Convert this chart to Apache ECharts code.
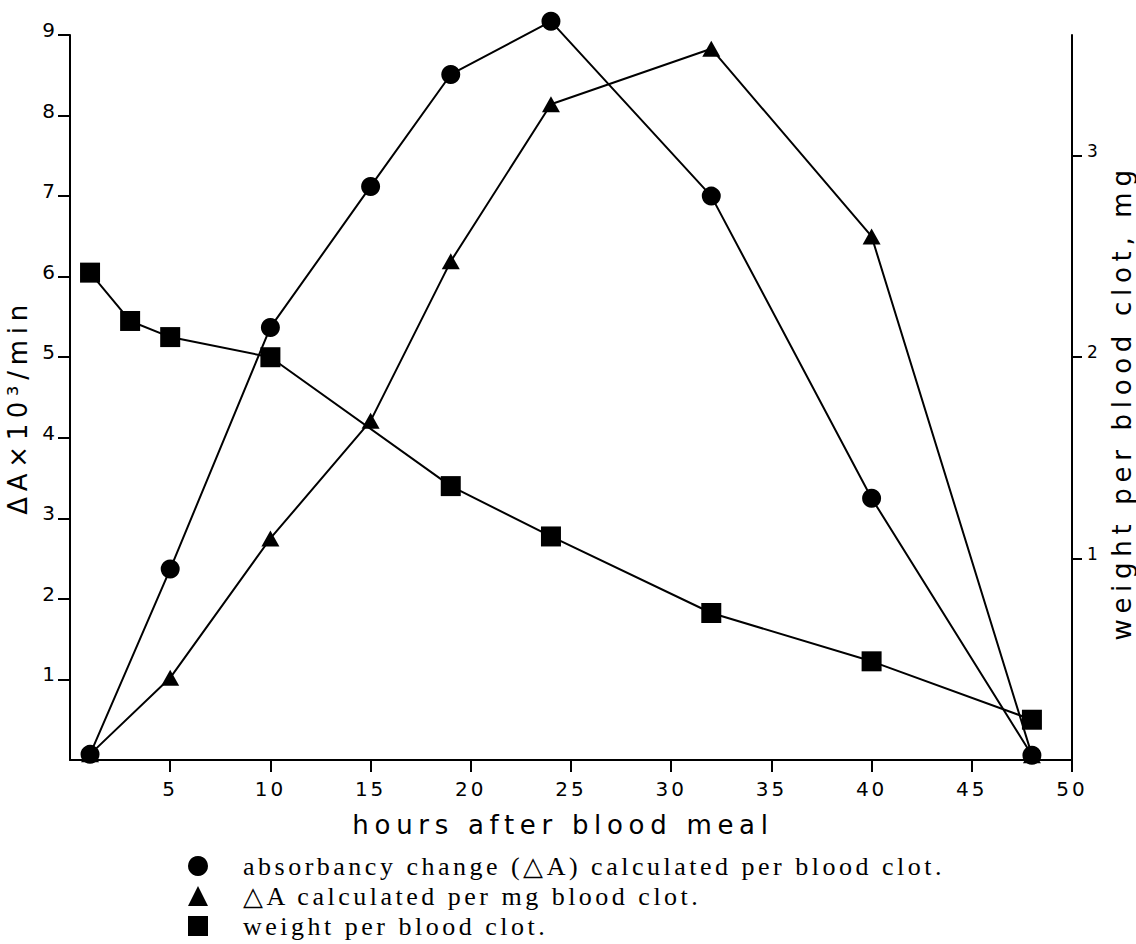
<!DOCTYPE html>
<html><head><meta charset="utf-8">
<script src="https://cdn.jsdelivr.net/npm/echarts@6/dist/echarts.min.js"></script>
<style>
html,body{margin:0;padding:0;background:#fff;}
#c{width:1136px;height:944px;}
#c svg text[style*="Liberation Serif"]{letter-spacing:3.5px;}
#c svg text[style*="26px"][style*="DejaVu"]{letter-spacing:5.7px;}
#c svg text[style*="sans-serif"]{letter-spacing:3px;}
</style></head><body><div id="c"></div>
<script>
// ---- data ----
const hoursAbs = [1, 5, 10, 15, 19, 24, 32, 40, 48];
const absPerClot = [0.07, 2.37, 5.37, 7.12, 8.51, 9.17, 7.0, 3.25, 0.06];
const absPerMg = [0.07, 1.02, 2.75, 4.21, 6.19, 8.14, 8.83, 6.5, 0.06];
const hoursWeight = [1, 3, 5, 10, 19, 24, 32, 40, 48];
const weightPerClot = [2.42, 2.18, 2.10, 2.0, 1.36, 1.11, 0.73, 0.49, 0.20];
const xTicks = [5, 10, 15, 20, 25, 30, 35, 40, 45, 50];
const yLeftTicks = [1, 2, 3, 4, 5, 6, 7, 8, 9];
const yRightTicks = [1, 2, 3];
const seriesNames = [
  'absorbancy change (\u25B3A) calculated per blood clot.',
  '\u25B3A calculated per mg blood clot.',
  'weight per blood clot.'
];
const xName = 'hours after blood meal';
const yLeftName = '\u0394A\u00D710\u00B3/min';
const yRightName = 'weight per blood clot, mg';

const pairs = (xs, ys) => xs.map((x, i) => [x, ys[i]]);
const black = '#000';
const lab = 'DejaVu Sans';

const chart = echarts.init(document.getElementById('c'), null, {renderer: 'svg'});
chart.setOption({
  animation: false,
  backgroundColor: '#fff',
  grid: {left: 70, right: 64, top: 35, bottom: 184, containLabel: false, outerBoundsMode: 'none'},
  legend: {
    orient: 'vertical', left: 188, top: 851, padding: 0,
    itemWidth: 20, itemHeight: 20, itemGap: 0, selectedMode: false,
    textStyle: {fontFamily: 'Liberation Serif', fontSize: 26, color: black, lineHeight: 30, padding: [0, 0, 0, 30]},
    data: [
      {name: seriesNames[0], icon: 'circle'},
      {name: seriesNames[1], icon: 'triangle'},
      {name: seriesNames[2], icon: 'rect'}
    ]
  },
  xAxis: {
    type: 'value', min: 0, max: 50, interval: 5,
    name: xName, nameLocation: 'middle', nameGap: 52,
    nameTextStyle: {fontFamily: lab, fontSize: 26, color: black, padding: [0, 16, 0, 0]},
    axisLine: {show: true, lineStyle: {color: black, width: 2}},
    axisTick: {show: true, inside: false, length: 12, lineStyle: {color: black, width: 2}, customValues: xTicks},
    axisLabel: {show: true, fontFamily: "'DejaVu Sans', sans-serif", fontSize: 20, color: black, margin: 19,
      customValues: xTicks, formatter: v => (v === 0 ? '' : String(v))},
    splitLine: {show: false}
  },
  yAxis: [
    {
      type: 'value', min: 0, max: 9, interval: 1, position: 'left',
      name: yLeftName, nameLocation: 'middle', nameGap: 21, nameRotate: 90,
      nameTextStyle: {fontFamily: lab, fontSize: 26, color: black, padding: [0, 19, 0, 0]},
      axisLine: {show: true, lineStyle: {color: black, width: 2}},
      axisTick: {show: true, inside: false, length: 12, lineStyle: {color: black, width: 2}, customValues: yLeftTicks},
      axisLabel: {show: true, fontFamily: lab, fontSize: 20, lineHeight: 10, color: black, margin: 15,
        verticalAlign: 'bottom', customValues: yLeftTicks, formatter: v => (v === 0 ? '' : String(v))},
      splitLine: {show: false}
    },
    {
      type: 'value', min: 0, max: 3.6, interval: 1, position: 'right',
      name: yRightName, nameLocation: 'middle', nameGap: 33, nameRotate: 90,
      nameTextStyle: {fontFamily: lab, fontSize: 26, color: black, padding: [0, 10, 0, 0]},
      axisLine: {show: true, lineStyle: {color: black, width: 2}},
      axisTick: {show: true, inside: false, length: 10, lineStyle: {color: black, width: 2}, customValues: yRightTicks},
      axisLabel: {show: true, fontFamily: lab, fontSize: 17, lineHeight: 10, color: black, margin: 15,
        verticalAlign: 'bottom', customValues: yRightTicks,
        formatter: v => (Number.isInteger(v) && v > 0 ? String(v) : '')},
      splitLine: {show: false}
    }
  ],
  series: [
    {
      name: seriesNames[0], type: 'line', yAxisIndex: 0, data: pairs(hoursAbs, absPerClot),
      symbol: 'circle', symbolSize: 19, showAllSymbol: true, clip: false,
      lineStyle: {color: black, width: 2}, itemStyle: {color: black, borderWidth: 0}, z: 3
    },
    {
      name: seriesNames[1], type: 'line', yAxisIndex: 0, data: pairs(hoursAbs, absPerMg),
      symbol: 'triangle', symbolSize: [18, 16], showAllSymbol: true, clip: false,
      lineStyle: {color: black, width: 2}, itemStyle: {color: black, borderWidth: 0}, z: 2
    },
    {
      name: seriesNames[2], type: 'line', yAxisIndex: 1, data: pairs(hoursWeight, weightPerClot),
      symbol: 'rect', symbolSize: 20, showAllSymbol: true, clip: false,
      lineStyle: {color: black, width: 2}, itemStyle: {color: black, borderWidth: 0}, z: 2
    }
  ]
});
</script></body></html>
